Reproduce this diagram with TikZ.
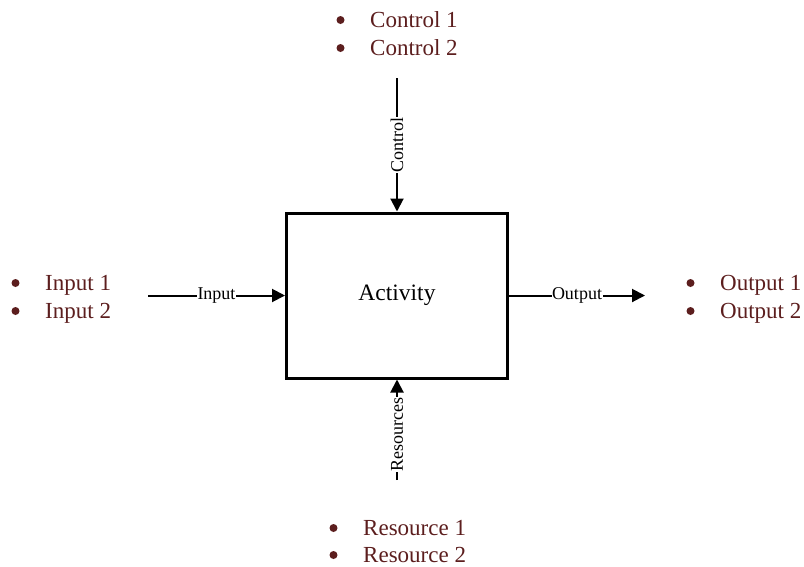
\documentclass[tikz,border=0pt]{standalone}
\usepackage{fontspec}
\setmainfont{Liberation Serif}
\usetikzlibrary{arrows.meta}
\definecolor{itemred}{RGB}{92,30,30}
\begin{document}
\begin{tikzpicture}[x=1pt,y=-1pt,
  activitybox/.style={draw, line width=3pt, minimum width=221pt, minimum height=165pt,
    inner sep=0pt, font=\fontsize{23.5}{28}\selectfont},
  conn/.style={line width=2pt, -{Triangle[length=13pt,width=13pt]}},
  flowlabel/.style={fill=white, inner sep=0.5pt, font=\fontsize{18}{21}\selectfont},
  listitem/.style={anchor=base west, inner sep=0pt, text=itemred,
    font=\fontsize{23}{28}\selectfont},
  itembullet/.style={fill=itemred}]
\useasboundingbox (0,0) rectangle (804,566);

% central activity
\node[activitybox] (act) at (397,295.5) {Activity};

% free ends of the four flows
\coordinate (ctrltop) at (397,78);
\coordinate (inleft) at (148,295.5);
\coordinate (outright) at (645,295.5);
\coordinate (resbot) at (397,480);

% flows into and out of the activity
\draw[conn] (ctrltop) -- (act.north) node[midway, flowlabel, rotate=90] (ctrllbl) {Control};
\draw[conn] (inleft) -- (act.west) node[midway, flowlabel] (inlbl) {Input};
\draw[conn] (act.east) -- (outright) node[midway, flowlabel] (outlbl) {Output};
\draw[conn] (resbot) -- (act.south) node[pos=0.45, flowlabel, rotate=90] (reslbl) {Resources};

% item lists
\node[listitem] (ctrlA) at (370,27) {Control 1};
\node[listitem] (ctrlB) at (370,55) {Control 2};
\node[listitem] (inA) at (45,290) {Input 1};
\node[listitem] (inB) at (45,318) {Input 2};
\node[listitem] (outA) at (720,290) {Output 1};
\node[listitem] (outB) at (720,318) {Output 2};
\node[listitem] (resA) at (363,535) {Resource 1};
\node[listitem] (resB) at (363,562) {Resource 2};

% bullets in front of each item
\foreach \item in {ctrlA,ctrlB,inA,inB,outA,outB,resA,resB}
  \fill[itembullet] ([shift={(-29.5pt,7pt)}]\item.base west) circle[radius=4pt];
\end{tikzpicture}
\end{document}
